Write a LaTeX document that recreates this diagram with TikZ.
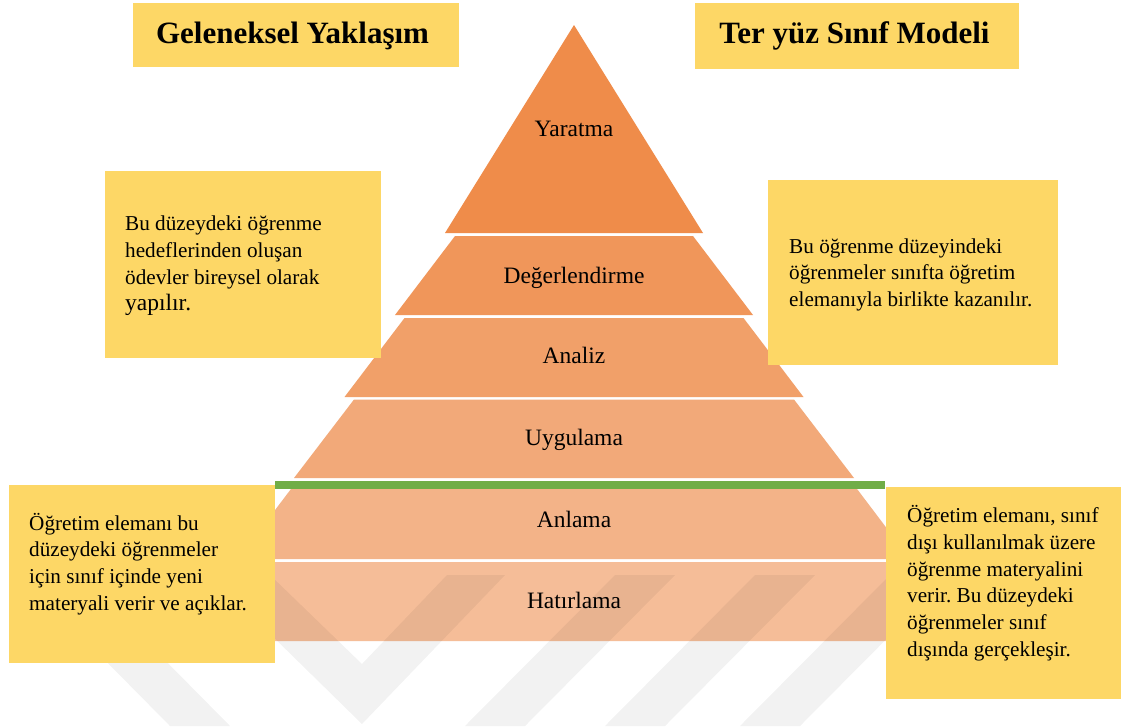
\documentclass[tikz,border=0pt]{standalone}
\usepackage{fontspec}
\setmainfont{Liberation Serif}

% pyramid level fills, top to bottom
\definecolor{lvlA}{HTML}{EF8C4A}
\definecolor{lvlB}{HTML}{F0965A}
\definecolor{lvlC}{HTML}{F1A069}
\definecolor{lvlD}{HTML}{F2A979}
\definecolor{lvlE}{HTML}{F3B388}
\definecolor{lvlF}{HTML}{F5BD98}
\definecolor{notefill}{HTML}{FDD766}
\definecolor{divider}{HTML}{70AD47}

% top-aligned paragraph whose baseline is its first line
\newcommand\notepar[2]{\parbox[t]{#1}{\raggedright #2}}

\tikzset{
  lvltext/.style={inner sep=0pt, font=\fontsize{23.5}{28}\selectfont},
  notebox/.style={fill=notefill, draw=none, inner sep=0pt, anchor=north west},
  notetext/.style={inner sep=0pt, anchor=base west, font=\fontsize{21.2}{26.7}\selectfont},
  titletext/.style={inner sep=0pt, anchor=base, font=\fontsize{31}{36}\selectfont\bfseries}
}

\begin{document}
\frenchspacing
\begin{tikzpicture}[x=1pt, y=-1pt]
  \fill[white] (0,0) rectangle (1121,726);
  \useasboundingbox (0,0) rectangle (1121,726);

  % six levels of the pyramid
  \fill[lvlA] (574,25) -- (703,233) -- (445,233) -- cycle;
  \fill[lvlB] (455,236) -- (693,236) -- (753,315) -- (395,315) -- cycle;
  \fill[lvlC] (404.5,318) -- (743.5,318) -- (803.5,397) -- (344.5,397) -- cycle;
  \fill[lvlD] (354,399.5) -- (794,399.5) -- (854,478) -- (294,478) -- cycle;
  \fill[lvlE] (297,481) -- (851,481) -- (910,559) -- (238,559) -- cycle;
  \fill[lvlF] (235,562) -- (913,562) -- (973,641) -- (175,641) -- cycle;

  % faint background logo stripes
  \begin{scope}[fill=black, fill opacity=0.05]
    \fill (210,575) -- (270,575) -- (362,664) -- (447,575) -- (505,575)
          -- (362,724) -- cycle;
    \fill (90,645) -- (150,645) -- (230,726) -- (170,726) -- cycle;
    \fill (615,575) -- (675,575) -- (525,726) -- (465,726) -- cycle;
    \fill (755,575) -- (815,575) -- (665,726) -- (605,726) -- cycle;
    \fill (890,575) -- (950,575) -- (800,726) -- (740,726) -- cycle;
  \end{scope}

  % level labels
  \node[lvltext, anchor=base] (yaratma) at (574,136) {Yaratma};
  \node[lvltext, anchor=base] (degerlendirme) at (574,283) {Değerlendirme};
  \node[lvltext, anchor=base] (analiz) at (574,363.3) {Analiz};
  \node[lvltext, anchor=base] (uygulama) at (574,445.7) {Uygulama};
  \node[lvltext, anchor=base] (anlama) at (574,527.7) {Anlama};
  \node[lvltext, anchor=base] (hatirlama) at (574,608) {Hatırlama};

  % green divider between in-class and out-of-class levels
  \coordinate (divL) at (275,485);
  \coordinate (divR) at (885,485);
  \draw[divider, line width=8pt] (divL) -- (divR);

  % headings
  \node[notebox, minimum width=326pt, minimum height=64pt] (leftHead) at (133,3) {};
  \node[titletext] (leftHeadText) at (292.5,43.4) {Geleneksel Yaklaşım};
  \node[notebox, minimum width=324pt, minimum height=66pt] (rightHead) at (695,3) {};
  \node[titletext] (rightHeadText) at (854.5,43.4) {Ter yüz Sınıf Modeli};

  % notes beside the pyramid
  \node[notebox, minimum width=276pt, minimum height=187pt] (noteUL) at (105,171) {};
  \node[notetext] (noteULText) at (125,230.7) {\notepar{250pt}{Bu düzeydeki öğrenme\\
    hedeflerinden oluşan\\ödevler bireysel olarak\\
    {\fontsize{23.5}{27}\selectfont yapılır.}}};

  \node[notebox, minimum width=290pt, minimum height=185pt] (noteUR) at (768,180) {};
  \node[notetext] (noteURText) at (789,253) {\notepar{265pt}{Bu öğrenme düzeyindeki\\
    öğrenmeler sınıfta öğretim\\elemanıyla birlikte kazanılır.}};

  \node[notebox, minimum width=266pt, minimum height=178pt] (noteLL) at (9,485) {};
  \node[notetext] (noteLLText) at (29,530) {\notepar{240pt}{Öğretim elemanı bu\\
    düzeydeki öğrenmeler\\için sınıf içinde yeni\\materyali verir ve açıklar.}};

  \node[notebox, minimum width=235pt, minimum height=212pt] (noteLR) at (886,487) {};
  \node[notetext] (noteLRText) at (907,522.7) {\notepar{210pt}{Öğretim elemanı, sınıf\\
    dışı kullanılmak üzere\\öğrenme materyalini\\verir. Bu düzeydeki\\
    öğrenmeler sınıf\\dışında gerçekleşir.}};
\end{tikzpicture}
\end{document}
